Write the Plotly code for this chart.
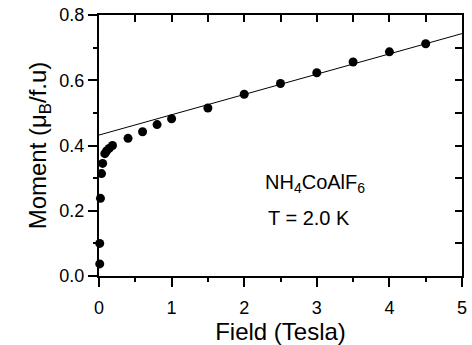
import plotly.graph_objects as go

# Measured data (Field in Tesla, Moment in muB/f.u.)
field = [0.01, 0.01, 0.02, 0.035, 0.05, 0.08, 0.104, 0.14, 0.186,
         0.4, 0.6, 0.8, 1.0, 1.5, 2.0, 2.5, 3.0, 3.5, 4.0, 4.5]
moment = [0.037, 0.10, 0.238, 0.314, 0.345, 0.375, 0.383, 0.391, 0.40,
          0.422, 0.442, 0.464, 0.482, 0.515, 0.557, 0.590, 0.623, 0.656, 0.687, 0.712]

# Linear high-field fit line
fit_x = [0.0, 5.0]
fit_y = [0.432, 0.743]

x_ticks = [0, 1, 2, 3, 4, 5]
y_ticks = [0.0, 0.2, 0.4, 0.6, 0.8]
y_ticklabels = ["0.0", "0.2", "0.4", "0.6", "0.8"]

FONT = "Liberation Sans, Arial, Helvetica, sans-serif"

fig = go.Figure()
fig.add_trace(go.Scatter(x=fit_x, y=fit_y, mode="lines",
                         line=dict(color="black", width=1), showlegend=False,
                         hoverinfo="skip"))
fig.add_trace(go.Scatter(x=field, y=moment, mode="markers",
                         marker=dict(color="black", size=9),
                         cliponaxis=False, showlegend=False))
# invisible trace to activate mirror axes
fig.add_trace(go.Scatter(x=[None], y=[None], xaxis="x2", yaxis="y2",
                         showlegend=False, hoverinfo="skip"))

fig.update_layout(
    width=472, height=345,
    margin=dict(l=99, r=5, t=13, b=69),
    paper_bgcolor="white", plot_bgcolor="white",
    font=dict(family=FONT, color="black", size=18),
    xaxis=dict(range=[0, 5], tickvals=x_ticks, ticks="outside", ticklen=9,
               tickwidth=2, tickcolor="black", showline=True, linewidth=2,
               linecolor="black", showgrid=False, zeroline=False,
               tickfont=dict(size=18), ticklabeloverflow="allow",
               ticklabelstandoff=5,
               minor=dict(dtick=0.5, ticks="outside", ticklen=4, tickwidth=2,
                          tickcolor="black", showgrid=False),
               title=dict(text="Field (Tesla)", font=dict(size=24), standoff=5)),
    yaxis=dict(range=[0, 0.8], tickvals=y_ticks, ticktext=y_ticklabels,
               ticks="outside", ticklen=9, tickwidth=2, tickcolor="black",
               showline=True, linewidth=2, linecolor="black", showgrid=False,
               zeroline=False, tickfont=dict(size=18),
               minor=dict(dtick=0.1, ticks="outside", ticklen=4, tickwidth=2,
                          tickcolor="black", showgrid=False),
               title=dict(text="Moment (μ<sub>B</sub>/f.u)", font=dict(size=24),
                          standoff=6)),
    xaxis2=dict(range=[0, 5], overlaying="x", side="top", dtick=0.5, tick0=0,
                ticks="inside", ticklen=7, tickwidth=2, tickcolor="black",
                showticklabels=False, showline=True, linewidth=2,
                linecolor="black", showgrid=False, zeroline=False),
    yaxis2=dict(range=[0, 0.8], overlaying="y", side="right", dtick=0.1, tick0=0,
                ticks="inside", ticklen=7, tickwidth=2, tickcolor="black",
                showticklabels=False, showline=True, linewidth=2,
                linecolor="black", showgrid=False, zeroline=False),
    annotations=[
        dict(text="NH<sub>4</sub>CoAlF<sub>6</sub>", xref="paper", yref="paper",
             x=0.595, y=0.354, showarrow=False, font=dict(size=20),
             xanchor="center", yanchor="middle"),
        dict(text="T = 2.0 K", xref="paper", yref="paper",
             x=0.579, y=0.224, showarrow=False, font=dict(size=20),
             xanchor="center", yanchor="middle"),
    ],
)

fig.write_html("out.html")
